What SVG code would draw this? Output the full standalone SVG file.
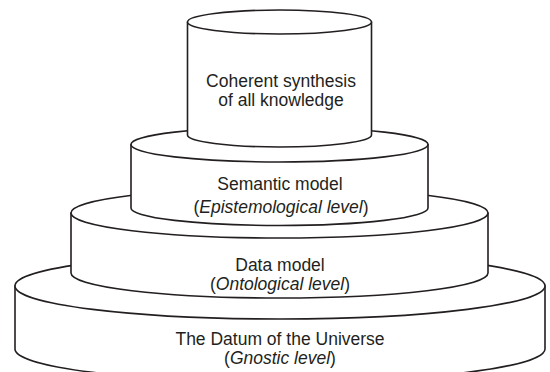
<svg xmlns="http://www.w3.org/2000/svg" width="550" height="372" viewBox="0 0 550 372">
<style>
.tier{fill:#fff;stroke:#231f20;stroke-width:1.6;stroke-linejoin:round}
.lbl{font-family:"Liberation Sans",Arial,Helvetica,sans-serif;font-size:17.5px;fill:#231f20;text-anchor:middle}
.it{font-style:italic}
</style>
<rect width="550" height="372" fill="#fff"/>
<g id="gnostic">
<path class="tier" d="M15,286 L15,349 A265,33 0 0 0 545,349 L545,286 Z"/>
<ellipse class="tier" cx="280" cy="286" rx="265" ry="33"/>
<text class="lbl" x="280" y="345">The Datum of the Universe</text>
<text class="lbl" x="280" y="364">(<tspan class="it">Gnostic level</tspan>)</text>
</g>
<g id="ontological">
<path class="tier" d="M71,213 L71,273 A208.5,25 0 0 0 488,273 L488,213 Z"/>
<ellipse class="tier" cx="279.5" cy="213" rx="208.5" ry="25"/>
<text class="lbl" x="280" y="271">Data model</text>
<text class="lbl" x="280" y="290">(<tspan class="it">Ontological level</tspan>)</text>
</g>
<g id="epistemological">
<path class="tier" d="M131,144.5 L131,208 A148.5,17.5 0 0 0 428,208 L428,144.5 Z"/>
<ellipse class="tier" cx="279.5" cy="144.5" rx="148.5" ry="17.5"/>
<text class="lbl" x="280" y="190">Semantic model</text>
<text class="lbl" x="281" y="213">(<tspan class="it">Epistemological level</tspan>)</text>
</g>
<g id="synthesis">
<path class="tier" d="M187.5,22 L187.5,135 A92,12 0 0 0 371.5,135 L371.5,22 Z"/>
<ellipse class="tier" cx="279.5" cy="22" rx="92" ry="12"/>
<text class="lbl" x="281" y="87">Coherent synthesis</text>
<text class="lbl" x="281" y="106">of all knowledge</text>
</g>
<g id="connectors"/>
</svg>
